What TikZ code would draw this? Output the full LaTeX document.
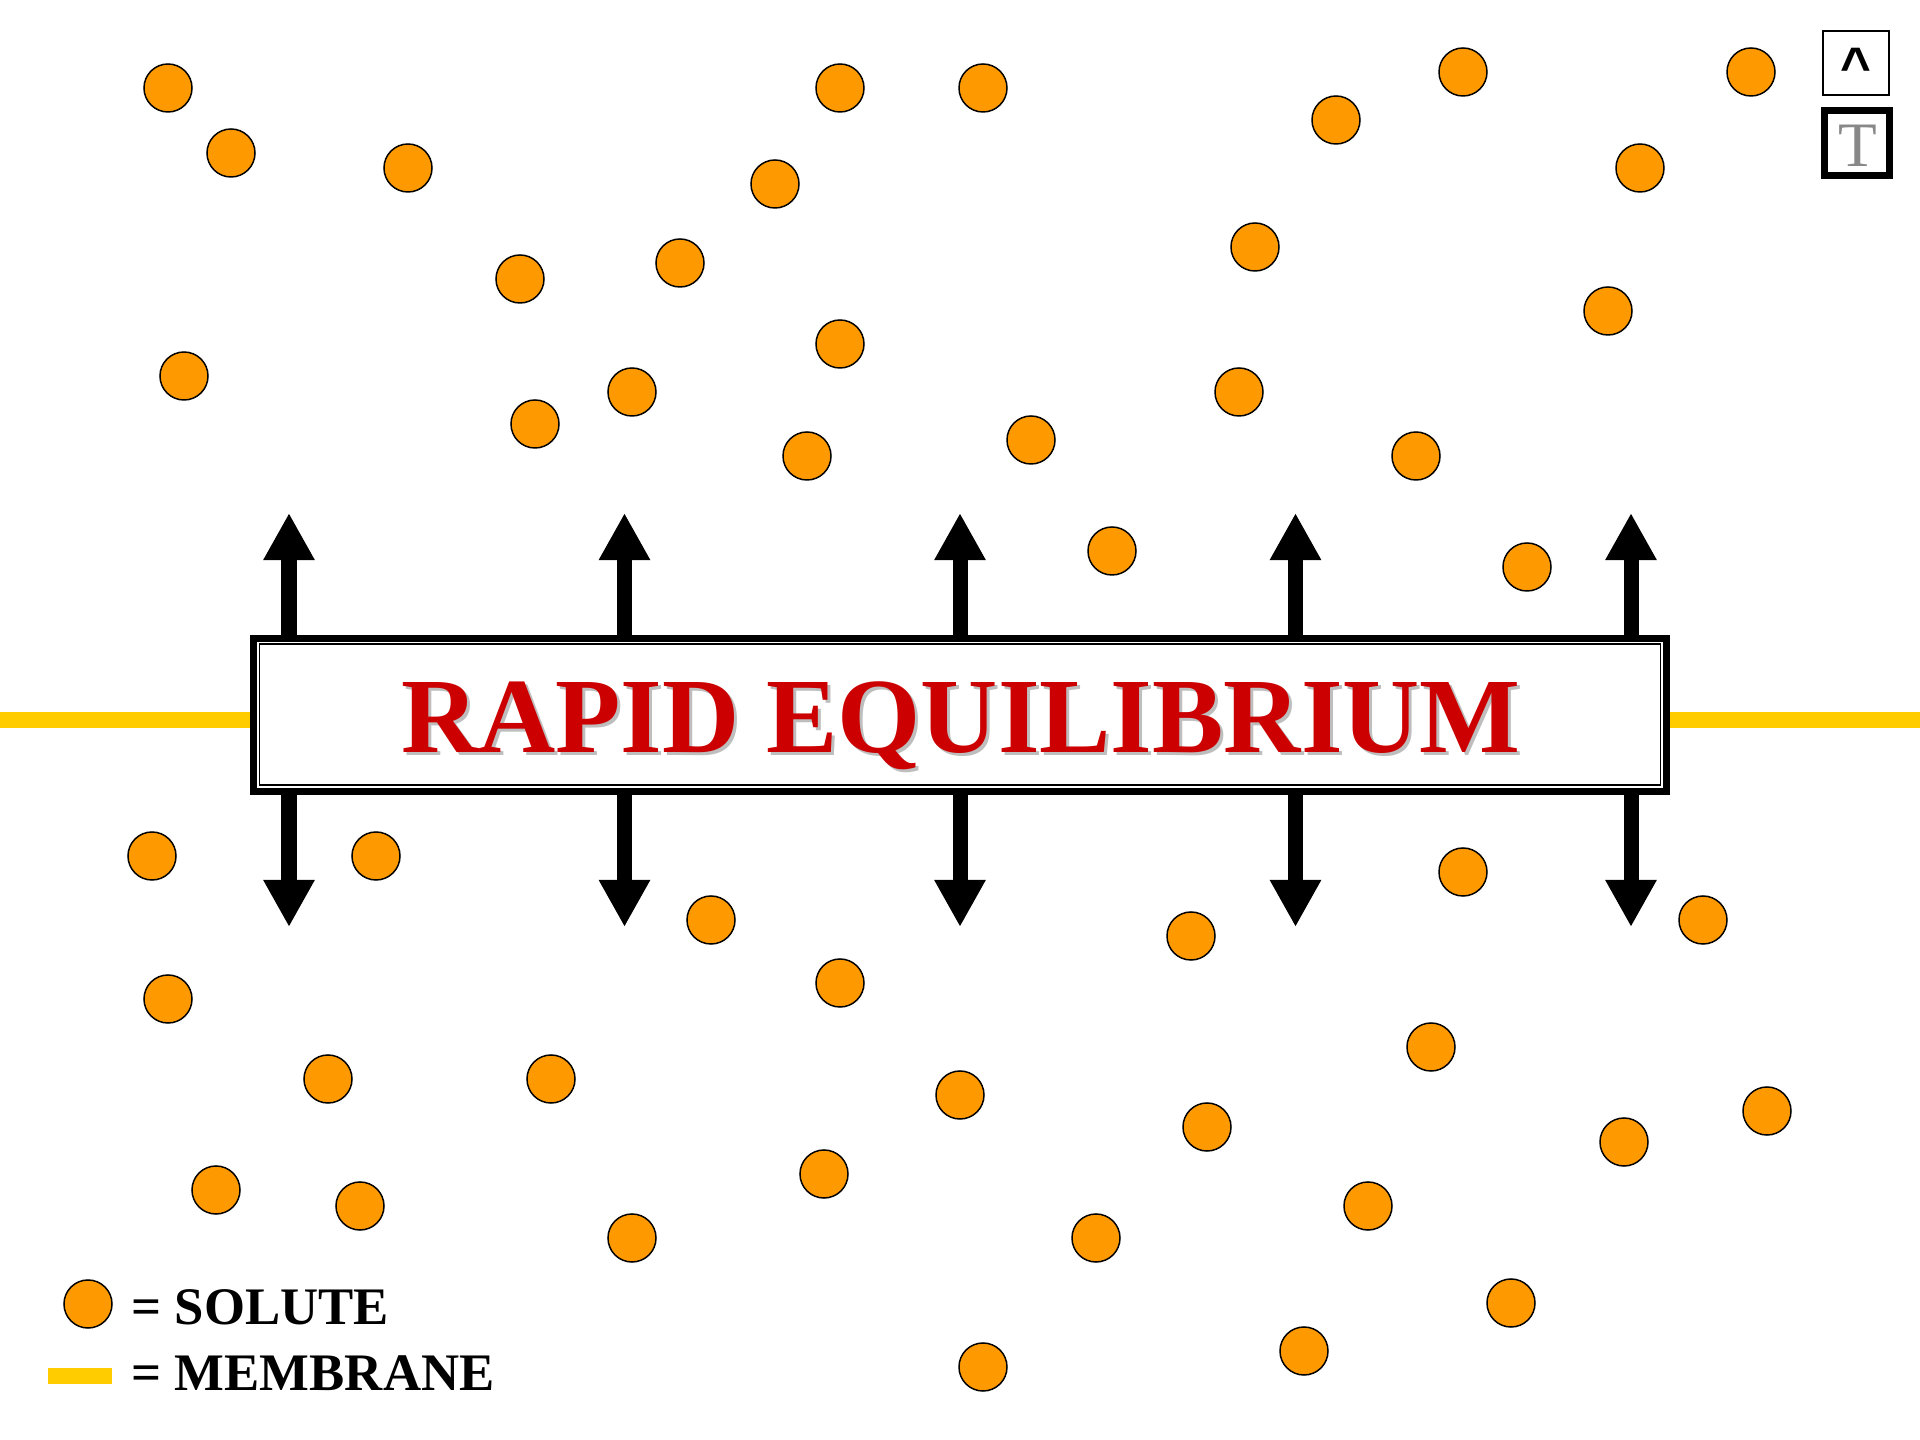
\documentclass[tikz,border=0pt]{standalone}
\usepackage{fontspec}
\setmainfont{Liberation Serif}
\newfontfamily\btnfont{Liberation Sans}
\usetikzlibrary{arrows.meta, positioning, calc}
\definecolor{soluteorange}{RGB}{255,153,0}
\definecolor{membraneyellow}{RGB}{255,204,0}
\definecolor{titlered}{RGB}{204,0,0}
\definecolor{shadowgray}{RGB}{190,190,190}
\definecolor{btngray}{RGB}{136,136,136}
\tikzset{
  solute/.style={circle, draw=black, fill=soluteorange, line width=0.42pt, minimum size=0.48cm, inner sep=0pt},
  membrane/.style={draw=membraneyellow, line width=0.16cm},
  flux/.style={-{Triangle[length=0.47cm, width=0.48cm]}, line width=0.15cm},
  eqframe/.style={rectangle, draw=black, fill=white, line width=0.07cm, minimum width=14.13cm, minimum height=1.53cm, inner sep=0pt},
  titletext/.style={anchor=base, inner sep=0pt, font=\fontsize{30.4}{30.4}\selectfont\bfseries},
  legendtext/.style={anchor=base west, inner sep=0pt, font=\fontsize{15}{15}\selectfont\bfseries},
}

\begin{document}
\begin{tikzpicture}[x=0.01cm, y=-0.01cm]
\useasboundingbox[fill=white] (0,0) rectangle (1920,1440);
% membrane with the equilibrium frame across it
\node (eqbox) [eqframe] at (960,715) {};
\coordinate (memL) at (0,720);
\coordinate (memR) at (1920,720);
\draw[membrane] (memL) -- (memL -| eqbox.west);
\draw[membrane] (memR) -- (memR -| eqbox.east);
\draw[line width=0.5pt] ([shift={(10,9)}]eqbox.north west) rectangle ([shift={(-10,-10)}]eqbox.south east);
\node (titleshadow) [titletext, text=shadowgray] at (964,756) {RAPID EQUILIBRIUM};
\node (title) [titletext, text=titlered] at (961,753) {RAPID EQUILIBRIUM};
% arrows through the membrane
\foreach \ax [count=\k] in {289,624.5,960,1295.5,1631} {
  \coordinate (up\k) at (\ax,513);
  \coordinate (down\k) at (\ax,927);
  \draw[flux] (up\k |- eqbox.north) -- (up\k);
  \draw[flux] (down\k |- eqbox.south) -- (down\k);
}
% solute particles
\foreach \px/\py [count=\i] in {168/88, 231/153, 408/168, 840/88, 983/88, 775/184, 1336/120, 1463/72,
  1751/72, 1640/168, 520/279, 680/263, 1255/247, 1608/311, 184/376, 840/344, 632/392, 535/424,
  1239/392, 807/456, 1031/440, 1416/456, 1112/551, 1527/567,
  152/856, 376/856, 711/920, 1463/872, 1191/936, 1703/920, 168/999, 840/983, 328/1079, 551/1079,
  960/1095, 1431/1047, 1207/1127, 1767/1111, 1624/1142, 216/1190, 360/1206, 824/1174, 1368/1206,
  632/1238, 1096/1238, 1511/1303, 1304/1351, 983/1367}
  \node (sol\i) [solute] at (\px,\py) {};
% legend
\node (keysolute) [solute] at (88,1304) {};
\node (keysolutetxt) [legendtext] at (131,1325) {= SOLUTE};
\node (keymembrane) [fill=membraneyellow, minimum width=0.64cm, minimum height=0.16cm, inner sep=0pt] at (80,1376) {};
\node (keymembranetxt) [legendtext] at (131,1391) {= MEMBRANE};
% navigation buttons
\node (upbtn) [draw, line width=0.4pt, minimum width=0.66cm, minimum height=0.64cm, inner sep=0pt] at (1856,63) {};
\node (upbtntxt) [anchor=base, inner sep=0pt, font=\btnfont\bfseries\fontsize{15}{15}\selectfont] at (1856,85) {\textasciicircum};
\node (tbtn) [draw, line width=0.07cm, minimum width=0.65cm, minimum height=0.65cm, inner sep=0pt] at (1857,143) {};
\draw[line width=0.4pt] ([shift={(4.5,4.5)}]tbtn.north west) rectangle ([shift={(-4.5,-4.5)}]tbtn.south east);
\node (tbtntxt) [anchor=base, inner sep=0pt, text=btngray, font=\fontsize{18}{18}\selectfont] at (1858,167) {T};
\end{tikzpicture}
\end{document}
